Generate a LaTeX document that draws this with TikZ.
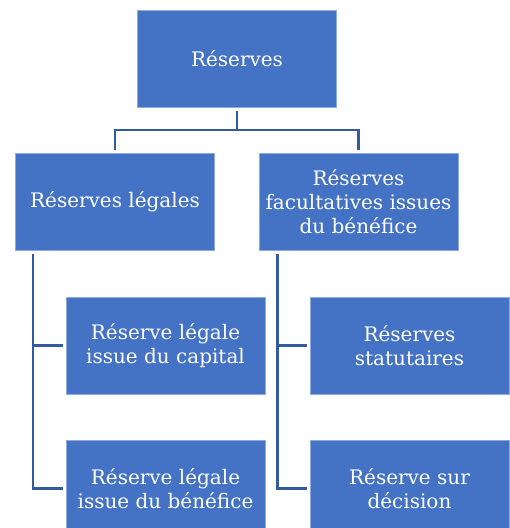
\documentclass[tikz,border=0pt]{standalone}
\usepackage{fontspec}
\setmainfont{DejaVu Serif}
\usepackage{tikz}

\definecolor{boxblue}{RGB}{68,114,196}
\definecolor{edgeblue}{RGB}{143,170,220}
\definecolor{lineblue}{RGB}{52,90,160}

\tikzset{
  boite/.style={fill=boxblue, draw=edgeblue, line width=0.75bp, text=white,
    minimum width=199bp, minimum height=97bp, inner sep=0pt, align=center,
    font=\fontsize{20bp}{24bp}\selectfont},
  lien/.style={draw=lineblue, line width=2.6bp, shorten <=3bp, shorten >=3bp}
}

\begin{document}
\begin{tikzpicture}[x=1bp,y=-1bp]
                \useasboundingbox (0,0) rectangle (510,528);
                \clip (0,0) rectangle (510,528);

                \node[boite] (reserves) at (237,59) {Réserves};

                \node[boite] (legales) at (115,202) {Réserves légales};
                \node[boite] (facult) at (358.5,202)
                {Réserves\\facultatives issues\\du bénéfice};

                \node[boite] (capital) at (165.5,345.5)
                {Réserve légale\\issue du capital};
                \node[boite] (benef) at (165.5,488.5)
                {Réserve légale\\issue du bénéfice};

                \node[boite] (statut) at (409.5,345.5)
                {Réserves\\statutaires};
                \node[boite] (decision) at (409.5,488.5)
                {Réserve sur\\décision};

                \draw[lien] (reserves.south) -- ++(0,22) -| (legales.north);
                \draw[lien] (reserves.south) -- ++(0,22) -| (facult.north);

                \coordinate (gauche) at ([xshift=18bp]legales.south west);
                \draw[lien] (gauche) |- (capital.west);
                \draw[lien] (gauche) |- (benef.west);

                \coordinate (droite) at ([xshift=19bp]facult.south west);
                \draw[lien] (droite) |- (statut.west);
                \draw[lien] (droite) |- (decision.west);
            \end{tikzpicture}
\end{document}
